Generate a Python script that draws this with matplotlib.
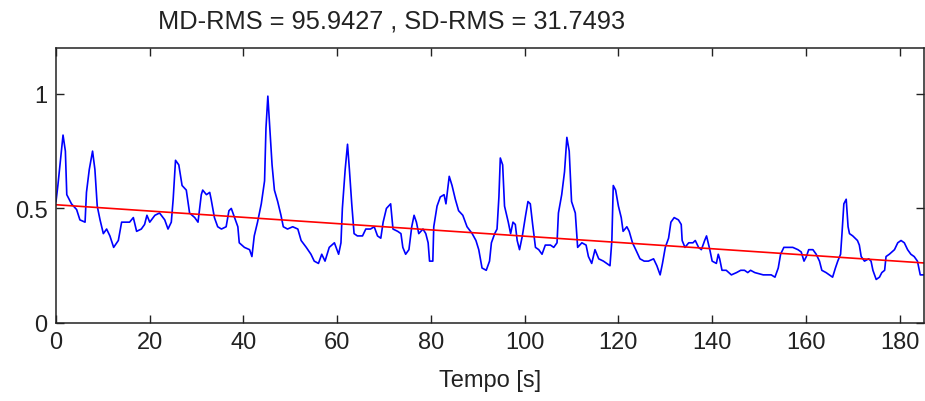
import matplotlib
matplotlib.use("Agg")
import matplotlib.pyplot as plt

plt.rcParams['font.family'] = ['Liberation Sans', 'DejaVu Sans']

time_s = [0, 0.4, 1.0, 1.5, 2.0, 2.3, 3.3, 4.4, 5.1, 6.2, 6.5, 7.1, 7.8, 8.3, 8.8, 9.4, 10.1, 10.8, 11.5, 12.3,
          13.3, 14.0, 15.0, 15.7, 16.5, 17.2, 18.2, 18.9, 19.4, 20.0, 21.1, 22.1, 23.2, 23.9, 24.6, 25.0, 25.5,
          26.2, 26.9, 27.8, 28.5, 29.6, 30.3, 31.0, 31.3, 32.1, 32.8, 33.1, 33.8, 34.5, 35.3, 36.3, 36.9, 37.4,
          38.1, 38.8, 39.1, 40.2, 41.3, 41.8, 42.3, 43.0, 43.8, 44.5, 44.8, 45.2, 45.5, 46.1, 46.6, 47.3, 48.0,
          48.5, 49.4, 50.5, 51.6, 52.3, 53.4, 54.4, 55.1, 56.0, 56.7, 57.4, 58.3, 59.4, 60.3, 60.8, 61.1, 61.7,
          62.2, 62.6, 63.1, 63.6, 64.3, 65.4, 66.1, 67.1, 67.9, 68.6, 69.3, 69.8, 70.5, 71.4, 71.9, 72.9, 73.6,
          74.0, 74.6, 75.3, 75.9, 76.4, 76.9, 77.4, 78.3, 78.9, 79.4, 79.7, 80.4, 80.6, 81.3, 82.0, 82.8, 83.2,
          83.9, 84.5, 85.2, 85.9, 86.8, 87.7, 88.8, 89.6, 90.2, 90.9, 91.8, 92.5, 92.9, 93.6, 94.1, 94.5, 94.8,
          95.3, 95.7, 96.5, 97.0, 97.5, 98.0, 98.4, 98.9, 99.5, 100.2, 100.7, 101.2, 101.7, 102.3, 103.0, 103.7,
          104.4, 105.5, 106.2, 106.9, 107.2, 107.9, 108.5, 109.0, 109.5, 110.0, 110.8, 111.3, 112.2, 113.1,
          113.6, 114.3, 115.0, 115.8, 116.8, 117.5, 118.2, 118.6, 118.9, 119.4, 120.0, 120.6, 121.0, 121.8,
          122.3, 123.0, 123.7, 124.6, 125.5, 126.4, 127.5, 128.2, 128.9, 129.4, 130.0, 130.7, 131.2, 131.9,
          132.8, 133.4, 133.6, 134.2, 135.0, 135.9, 136.4, 137.1, 137.7, 138.4, 138.8, 139.5, 140.0, 140.9,
          141.3, 141.6, 142.1, 143.0, 144.1, 145.2, 146.1, 146.9, 147.6, 148.2, 149.1, 150.9, 152.6, 153.4,
          154.1, 154.6, 155.3, 156.2, 157.2, 158.3, 159.0, 159.6, 160.1, 160.6, 161.5, 162.2, 162.9, 163.4,
          164.3, 165.0, 165.7, 166.3, 166.8, 167.4, 167.7, 168.1, 168.6, 169.0, 169.3, 170.0, 171.0, 171.4,
          171.8, 172.5, 173.4, 173.9, 174.3, 175.0, 175.7, 176.2, 176.8, 177.1, 177.8, 178.9, 179.6, 180.3,
          181.0, 181.7, 182.4, 183.1, 183.8, 184.4, 185.2]

signal = [0.53, 0.60, 0.72, 0.82, 0.75, 0.56, 0.52, 0.495, 0.45, 0.44, 0.57, 0.67, 0.75, 0.67, 0.51, 0.45, 0.39,
          0.41, 0.38, 0.33, 0.36, 0.44, 0.44, 0.44, 0.46, 0.40, 0.41, 0.43, 0.47, 0.44, 0.47, 0.48, 0.45, 0.41,
          0.44, 0.54, 0.71, 0.69, 0.60, 0.58, 0.48, 0.46, 0.44, 0.56, 0.58, 0.56, 0.57, 0.54, 0.46, 0.42, 0.41,
          0.42, 0.49, 0.50, 0.46, 0.42, 0.35, 0.33, 0.32, 0.29, 0.38, 0.44, 0.52, 0.62, 0.85, 0.99, 0.89, 0.69,
          0.58, 0.53, 0.47, 0.42, 0.41, 0.42, 0.41, 0.36, 0.33, 0.30, 0.27, 0.26, 0.30, 0.27, 0.33, 0.35, 0.30,
          0.35, 0.50, 0.67, 0.78, 0.67, 0.52, 0.39, 0.38, 0.38, 0.41, 0.41, 0.42, 0.38, 0.37, 0.44, 0.50, 0.52,
          0.41, 0.40, 0.39, 0.33, 0.30, 0.32, 0.42, 0.47, 0.44, 0.39, 0.41, 0.39, 0.35, 0.27, 0.27, 0.42, 0.51,
          0.55, 0.56, 0.52, 0.64, 0.60, 0.54, 0.49, 0.47, 0.42, 0.39, 0.36, 0.32, 0.24, 0.23, 0.27, 0.35, 0.39,
          0.41, 0.55, 0.72, 0.69, 0.51, 0.44, 0.39, 0.44, 0.43, 0.36, 0.32, 0.38, 0.47, 0.53, 0.52, 0.43, 0.33,
          0.32, 0.30, 0.34, 0.34, 0.33, 0.35, 0.48, 0.56, 0.66, 0.81, 0.75, 0.53, 0.48, 0.33, 0.35, 0.34, 0.29,
          0.26, 0.32, 0.28, 0.27, 0.26, 0.25, 0.36, 0.60, 0.58, 0.51, 0.46, 0.40, 0.42, 0.40, 0.35, 0.32, 0.28,
          0.27, 0.27, 0.28, 0.25, 0.21, 0.26, 0.33, 0.37, 0.44, 0.46, 0.45, 0.43, 0.36, 0.33, 0.35, 0.35, 0.36,
          0.33, 0.32, 0.36, 0.38, 0.32, 0.27, 0.26, 0.30, 0.28, 0.23, 0.23, 0.21, 0.22, 0.23, 0.23, 0.22, 0.23,
          0.22, 0.21, 0.21, 0.20, 0.24, 0.30, 0.33, 0.33, 0.33, 0.32, 0.31, 0.27, 0.29, 0.32, 0.32, 0.30, 0.27,
          0.23, 0.22, 0.21, 0.20, 0.24, 0.27, 0.30, 0.39, 0.52, 0.54, 0.42, 0.39, 0.38, 0.36, 0.34, 0.29, 0.27,
          0.28, 0.27, 0.23, 0.19, 0.20, 0.22, 0.23, 0.29, 0.30, 0.32, 0.35, 0.36, 0.35, 0.32, 0.30, 0.29, 0.27,
          0.21, 0.21]

trend_t = [0, 185.2]
trend_v = [0.516, 0.262]

x_ticks = [0, 20, 40, 60, 80, 100, 120, 140, 160, 180]
y_ticks = [0, 0.5, 1]
y_tick_labels = ["0", "0.5", "1"]
title_text = "MD-RMS = 95.9427 , SD-RMS = 31.7493"
x_label = "Tempo [s]"

fig = plt.figure(figsize=(9.25, 4.02), dpi=100)
ax = fig.add_axes([56 / 925, 1 - 324 / 402, (924 - 56) / 925, (324 - 49) / 402])

ax.plot(time_s, signal, color=(0, 0, 1), lw=1.2)
ax.plot(trend_t, trend_v, color=(1, 0, 0), lw=1.2)

ax.set_xlim(0, 185.2)
ax.set_ylim(0, 1.2)
ax.set_xticks(x_ticks)
ax.set_yticks(y_ticks)
ax.set_yticklabels(y_tick_labels)
ax.tick_params(direction='in', length=6, width=1, top=True, right=True,
               labelsize=17, pad=6, colors='#222222')
for s in ax.spines.values():
    s.set_linewidth(1.1)
    s.set_color('#222222')

ax.set_xlabel(x_label, fontsize=17, labelpad=11, color='#222222')
fig.text(158 / 925, 1 - 29 / 402, title_text, fontsize=18.3, ha='left', va='baseline', color='#222222')

fig.savefig("out.png", dpi=100)
